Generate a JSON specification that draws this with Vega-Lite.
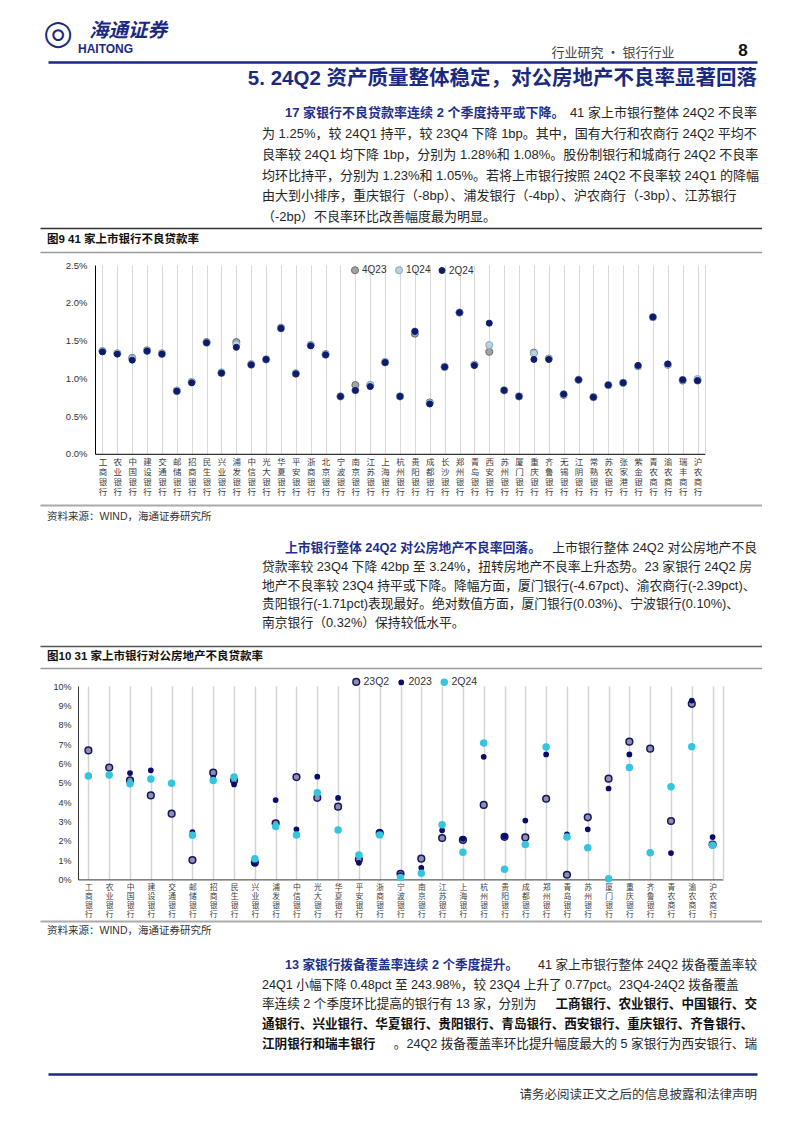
{
"$schema": "https://vega.github.io/schema/vega-lite/v6.json",
"padding": 0,
"background": "#ffffff",
"spacing": 0,
"resolve": {"scale": {"fill": "independent", "stroke": "independent", "size": "independent"}},
"config": {
  "view": {"stroke": null},
  "text": {"font": "Liberation Sans, Noto Sans CJK SC", "baseline": "middle"},
  "axis": {"labelFont": "Liberation Sans"}
},
"vconcat": [
 {"hconcat": [
   {"width": 43, "height": 1, "data": {"values": []}, "mark": "text"},
   {"width": 30, "height": 62, "data": {"values": [{"t": "◎"}]}, "mark": {"type": "text", "font": "DejaVu Sans", "fontSize": 34, "color": "#1b2a80", "dy": 3}, "encoding": {"text": {"field": "t"}}},
   {"width": 110, "height": 61.9, "data": {"values": [{"t": "海通证券", "k": "cn"}, {"t": "HAITONG", "k": "en"}]},
    "layer": [
      {"transform": [{"filter": "datum.k == 'cn'"}], "mark": {"type": "text", "font": "Noto Sans CJK SC", "fontWeight": "bold", "fontStyle": "italic", "fontSize": 19.5, "color": "#1b2a80", "dy": 0}, "encoding": {"text": {"field": "t"}}},
      {"transform": [{"filter": "datum.k == 'en'"}], "mark": {"type": "text", "font": "Liberation Sans", "fontWeight": "bold", "fontSize": 12, "color": "#1b2a80", "align": "left", "dx": -50, "dy": 18}, "encoding": {"text": {"field": "t"}}}
    ]},
   {"width": 369.5, "height": 2, "data": {"values": []}, "mark": "text"},
   {"width": 120, "height": 61.8, "data": {"values": [{"t": "行业研究 · 银行行业"}]}, "mark": {"type": "text", "font": "Noto Sans CJK SC", "fontSize": 13, "color": "#444444", "dy": 22}, "encoding": {"text": {"field": "t"}}},
   {"width": 59.5, "height": 3, "data": {"values": []}, "mark": "text"},
   {"width": 20, "height": 61.7, "data": {"values": [{"t": "8"}]}, "mark": {"type": "text", "font": "Liberation Sans", "fontWeight": "bold", "fontSize": 17, "color": "#111111", "dy": 20}, "encoding": {"text": {"field": "t"}}}
 ], "spacing": 0, "bounds": "flush"},

 {"hconcat": [
   {"width": 48, "height": 1, "data": {"values": []}, "mark": "text"},
   {"width": 709, "height": 40.5, "data": {"values": [{"t": "5. 24Q2 资产质量整体稳定，对公房地产不良率显著回落"}]},
    "mark": {"type": "text", "align": "right", "dy": -3, "fontSize": 20.5, "fontWeight": "bold", "color": "#1b2a80"},
    "encoding": {"text": {"field": "t"}, "x": {"datum": 1, "type": "quantitative", "scale": {"domain": [0, 1]}, "axis": {"orient": "top", "title": null, "labels": false, "ticks": false, "grid": false, "domain": true, "domainColor": "#1b2a80", "domainWidth": 2.5}}}}
 ], "spacing": 0, "bounds": "flush"},

 {"hconcat": [
   {"width": 262, "height": 1, "data": {"values": []}, "mark": "text"},
   {"width": 495, "height": 124.5,
    "data": {"values": [
      {"line": 1, "part": "lead", "t": "17 家银行不良贷款率连续 2 个季度持平或下降。"},
      {"line": 1, "part": "tail", "t": "41 家上市银行整体 24Q2 不良率"},
      {"line": 2, "part": "body", "t": "为 1.25%，较 24Q1 持平，较 23Q4 下降 1bp。其中，国有大行和农商行 24Q2 平均不"},
      {"line": 3, "part": "body", "t": "良率较 24Q1 均下降 1bp，分别为 1.28%和 1.08%。股份制银行和城商行 24Q2 不良率"},
      {"line": 4, "part": "body", "t": "均环比持平，分别为 1.23%和 1.05%。若将上市银行按照 24Q2 不良率较 24Q1 的降幅"},
      {"line": 5, "part": "body", "t": "由大到小排序，重庆银行（-8bp）、浦发银行（-4bp）、沪农商行（-3bp）、江苏银行"},
      {"line": 6, "part": "body", "t": "（-2bp）不良率环比改善幅度最为明显。"}
    ]},
    "encoding": {"y": {"field": "line", "type": "ordinal", "axis": null, "scale": {"type": "point", "padding": 0.5}}, "text": {"field": "t"}},
    "layer": [
      {"transform": [{"filter": "datum.part == 'lead'"}], "mark": {"type": "text", "align": "left", "dx": 23, "fontSize": 13, "fontWeight": "bold", "color": "#1f2f8f"}, "encoding": {"x": {"datum": 0, "type": "quantitative", "scale": {"domain": [0, 1]}, "axis": null}}},
      {"transform": [{"filter": "datum.part == 'body'"}], "mark": {"type": "text", "align": "left", "fontSize": 13, "color": "#262626"}, "encoding": {"x": {"datum": 0, "type": "quantitative", "scale": {"domain": [0, 1]}, "axis": null}}},
      {"transform": [{"filter": "datum.part == 'tail'"}], "mark": {"type": "text", "align": "right", "fontSize": 13, "color": "#262626"}, "encoding": {"x": {"datum": 1, "type": "quantitative", "scale": {"domain": [0, 1]}, "axis": null}}}
    ]}
 ], "spacing": 0, "bounds": "flush"},

 {"hconcat": [
   {"width": 40, "height": 1, "data": {"values": []}, "mark": "text"},
   {"width": 722, "height": 24, "data": {"values": [{"t": "图9  41 家上市银行不良贷款率"}]},
    "layer": [
      {"mark": {"type": "text", "align": "left", "dx": 7, "fontSize": 11.5, "fontWeight": "bold", "color": "#111111"}, "encoding": {"text": {"field": "t"}, "y": {"datum": 0.5, "type": "quantitative", "scale": {"domain": [0, 1]}, "axis": null}, "x": {"datum": 0, "type": "quantitative", "scale": {"domain": [0, 1]}, "axis": {"orient": "top", "title": null, "labels": false, "ticks": false, "grid": false, "domainColor": "#333333", "domainWidth": 1.5}}}},
      {"mark": {"type": "point", "size": 0, "opacity": 0}, "encoding": {"y": {"datum": 0.5, "type": "quantitative", "axis": null}, "x": {"datum": 0, "type": "quantitative", "axis": {"orient": "bottom", "title": null, "labels": false, "ticks": false, "grid": false, "domainColor": "#9a9a9a", "domainWidth": 1.5}}}}
    ],
    "resolve": {"axis": {"x": "independent"}}}
 ], "spacing": 0, "bounds": "flush"},

 {"width": 1, "height": 7.5, "data": {"values": []}, "mark": "text"},

 {"hconcat": [
   {"width": 94.5, "height": 1, "data": {"values": []}, "mark": "text"},
   {"width": 610, "height": 188.8,
    "data": {"values": [
{"b":"工商银行","s":"4Q23","v":1.36},{"b":"农业银行","s":"4Q23","v":1.33},{"b":"中国银行","s":"4Q23","v":1.27},{"b":"建设银行","s":"4Q23","v":1.37},{"b":"交通银行","s":"4Q23","v":1.33},{"b":"邮储银行","s":"4Q23","v":0.83},{"b":"招商银行","s":"4Q23","v":0.95},{"b":"民生银行","s":"4Q23","v":1.48},{"b":"兴业银行","s":"4Q23","v":1.07},{"b":"浦发银行","s":"4Q23","v":1.48},{"b":"中信银行","s":"4Q23","v":1.18},{"b":"光大银行","s":"4Q23","v":1.25},{"b":"华夏银行","s":"4Q23","v":1.67},{"b":"平安银行","s":"4Q23","v":1.06},{"b":"浙商银行","s":"4Q23","v":1.44},{"b":"北京银行","s":"4Q23","v":1.32},{"b":"宁波银行","s":"4Q23","v":0.76},{"b":"南京银行","s":"4Q23","v":0.91},{"b":"江苏银行","s":"4Q23","v":0.91},{"b":"上海银行","s":"4Q23","v":1.21},{"b":"杭州银行","s":"4Q23","v":0.76},{"b":"贵阳银行","s":"4Q23","v":1.59},{"b":"成都银行","s":"4Q23","v":0.68},{"b":"长沙银行","s":"4Q23","v":1.15},{"b":"郑州银行","s":"4Q23","v":1.87},{"b":"青岛银行","s":"4Q23","v":1.18},{"b":"西安银行","s":"4Q23","v":1.35},{"b":"苏州银行","s":"4Q23","v":0.84},{"b":"厦门银行","s":"4Q23","v":0.76},{"b":"重庆银行","s":"4Q23","v":1.34},{"b":"齐鲁银行","s":"4Q23","v":1.26},{"b":"无锡银行","s":"4Q23","v":0.78},{"b":"江阴银行","s":"4Q23","v":0.98},{"b":"常熟银行","s":"4Q23","v":0.75},{"b":"苏农银行","s":"4Q23","v":0.91},{"b":"张家港行","s":"4Q23","v":0.94},{"b":"紫金银行","s":"4Q23","v":1.16},{"b":"青农商行","s":"4Q23","v":1.81},{"b":"渝农商行","s":"4Q23","v":1.18},{"b":"瑞丰商行","s":"4Q23","v":0.97},{"b":"沪农商行","s":"4Q23","v":0.97},
{"b":"工商银行","s":"1Q24","v":1.36},{"b":"农业银行","s":"1Q24","v":1.33},{"b":"中国银行","s":"1Q24","v":1.26},{"b":"建设银行","s":"1Q24","v":1.36},{"b":"交通银行","s":"1Q24","v":1.32},{"b":"邮储银行","s":"1Q24","v":0.84},{"b":"招商银行","s":"1Q24","v":0.95},{"b":"民生银行","s":"1Q24","v":1.47},{"b":"兴业银行","s":"1Q24","v":1.08},{"b":"浦发银行","s":"1Q24","v":1.45},{"b":"中信银行","s":"1Q24","v":1.19},{"b":"光大银行","s":"1Q24","v":1.25},{"b":"华夏银行","s":"1Q24","v":1.66},{"b":"平安银行","s":"1Q24","v":1.07},{"b":"浙商银行","s":"1Q24","v":1.44},{"b":"北京银行","s":"1Q24","v":1.31},{"b":"宁波银行","s":"1Q24","v":0.76},{"b":"南京银行","s":"1Q24","v":0.84},{"b":"江苏银行","s":"1Q24","v":0.91},{"b":"上海银行","s":"1Q24","v":1.22},{"b":"杭州银行","s":"1Q24","v":0.76},{"b":"贵阳银行","s":"1Q24","v":1.62},{"b":"成都银行","s":"1Q24","v":0.67},{"b":"长沙银行","s":"1Q24","v":1.15},{"b":"郑州银行","s":"1Q24","v":1.87},{"b":"青岛银行","s":"1Q24","v":1.18},{"b":"西安银行","s":"1Q24","v":1.44},{"b":"苏州银行","s":"1Q24","v":0.84},{"b":"厦门银行","s":"1Q24","v":0.76},{"b":"重庆银行","s":"1Q24","v":1.33},{"b":"齐鲁银行","s":"1Q24","v":1.26},{"b":"无锡银行","s":"1Q24","v":0.79},{"b":"江阴银行","s":"1Q24","v":0.98},{"b":"常熟银行","s":"1Q24","v":0.75},{"b":"苏农银行","s":"1Q24","v":0.91},{"b":"张家港行","s":"1Q24","v":0.94},{"b":"紫金银行","s":"1Q24","v":1.16},{"b":"青农商行","s":"1Q24","v":1.81},{"b":"渝农商行","s":"1Q24","v":1.18},{"b":"瑞丰商行","s":"1Q24","v":0.98},{"b":"沪农商行","s":"1Q24","v":0.99},
{"b":"工商银行","s":"2Q24","v":1.35},{"b":"农业银行","s":"2Q24","v":1.32},{"b":"中国银行","s":"2Q24","v":1.24},{"b":"建设银行","s":"2Q24","v":1.36},{"b":"交通银行","s":"2Q24","v":1.32},{"b":"邮储银行","s":"2Q24","v":0.83},{"b":"招商银行","s":"2Q24","v":0.94},{"b":"民生银行","s":"2Q24","v":1.47},{"b":"兴业银行","s":"2Q24","v":1.07},{"b":"浦发银行","s":"2Q24","v":1.41},{"b":"中信银行","s":"2Q24","v":1.18},{"b":"光大银行","s":"2Q24","v":1.25},{"b":"华夏银行","s":"2Q24","v":1.66},{"b":"平安银行","s":"2Q24","v":1.06},{"b":"浙商银行","s":"2Q24","v":1.43},{"b":"北京银行","s":"2Q24","v":1.31},{"b":"宁波银行","s":"2Q24","v":0.76},{"b":"南京银行","s":"2Q24","v":0.84},{"b":"江苏银行","s":"2Q24","v":0.89},{"b":"上海银行","s":"2Q24","v":1.21},{"b":"杭州银行","s":"2Q24","v":0.76},{"b":"贵阳银行","s":"2Q24","v":1.62},{"b":"成都银行","s":"2Q24","v":0.66},{"b":"长沙银行","s":"2Q24","v":1.15},{"b":"郑州银行","s":"2Q24","v":1.87},{"b":"青岛银行","s":"2Q24","v":1.17},{"b":"西安银行","s":"2Q24","v":1.73},{"b":"苏州银行","s":"2Q24","v":0.84},{"b":"厦门银行","s":"2Q24","v":0.76},{"b":"重庆银行","s":"2Q24","v":1.25},{"b":"齐鲁银行","s":"2Q24","v":1.25},{"b":"无锡银行","s":"2Q24","v":0.79},{"b":"江阴银行","s":"2Q24","v":0.98},{"b":"常熟银行","s":"2Q24","v":0.75},{"b":"苏农银行","s":"2Q24","v":0.91},{"b":"张家港行","s":"2Q24","v":0.94},{"b":"紫金银行","s":"2Q24","v":1.17},{"b":"青农商行","s":"2Q24","v":1.81},{"b":"渝农商行","s":"2Q24","v":1.19},{"b":"瑞丰商行","s":"2Q24","v":0.98},{"b":"沪农商行","s":"2Q24","v":0.97}
    ]},
    "layer": [
      {"mark": {"type": "point", "opacity": 0},
       "encoding": {
         "x": {"field": "b", "type": "nominal", "sort": null, "scale": {"paddingInner": 0, "paddingOuter": 0}, "axis": {"orient": "top", "title": null, "labels": false, "ticks": false, "domain": false, "grid": true, "gridColor": "#d9d9d9", "gridWidth": 1, "bandPosition": 0}},
         "y": {"field": "v", "type": "quantitative", "axis": {"orient": "right", "title": null, "labels": false, "ticks": false, "grid": false, "domain": true, "domainColor": "#d9d9d9", "domainWidth": 1}}}},
      {"mark": {"type": "point", "filled": true, "opacity": 1, "strokeWidth": 1},
       "encoding": {
         "x": {"field": "b", "type": "nominal", "sort": null, "axis": {"orient": "bottom", "title": null, "labelAngle": 0, "labelExpr": "split(datum.label, '')", "labelFont": "Noto Sans CJK SC", "labelFontSize": 8.5, "labelLineHeight": 10, "labelColor": "#404040", "labelPadding": 4, "labelOverlap": false, "ticks": false, "grid": false, "domain": true, "domainColor": "#000000", "domainWidth": 1}},
         "y": {"field": "v", "type": "quantitative", "scale": {"domain": [0, 2.5], "nice": false}, "axis": {"orient": "left", "title": null, "values": [0, 0.5, 1, 1.5, 2, 2.5], "labelExpr": "format(datum.value, '.1f') + '%'", "ticks": false, "grid": false, "domain": true, "domainColor": "#000000", "domainWidth": 1, "labelFontSize": 9.5, "labelColor": "#333333", "labelPadding": 8}},
         "fill": {"field": "s", "type": "nominal", "scale": {"domain": ["4Q23", "1Q24", "2Q24"], "range": ["#a3a3a3", "#b7d2e2", "#0d1b6e"]}, "legend": {"orient": "none", "legendX": 255, "legendY": 0, "direction": "horizontal", "title": null, "labelFontSize": 10, "labelFont": "Liberation Sans", "labelColor": "#333333", "labelOffset": 2, "columnPadding": 6, "padding": 0, "symbolStrokeWidth": 1}},
         "stroke": {"field": "s", "type": "nominal", "scale": {"domain": ["4Q23", "1Q24", "2Q24"], "range": ["#6e6e6e", "#8fa7b8", "#0d1b6e"]}},
         "size": {"field": "s", "type": "nominal", "scale": {"type": "ordinal", "domain": ["4Q23", "1Q24", "2Q24"], "range": [50, 50, 36]}}
       }}
    ],
    "resolve": {"axis": {"x": "independent", "y": "independent"}}}
 ], "spacing": 0, "bounds": "flush", "resolve": {"scale": {"fill": "independent", "stroke": "independent", "size": "independent"}}},

 {"width": 1, "height": 8, "data": {"values": []}, "mark": "text"},

 {"hconcat": [
   {"width": 40, "height": 1, "data": {"values": []}, "mark": "text"},
   {"width": 722, "height": 33.2, "data": {"values": [{"t": "资料来源：WIND，海通证券研究所"}]},
    "mark": {"type": "text", "align": "left", "dx": 7, "dy": -5, "fontSize": 10.5, "color": "#333333"},
    "encoding": {"text": {"field": "t"}, "x": {"datum": 0, "type": "quantitative", "scale": {"domain": [0, 1]}, "axis": {"orient": "top", "title": null, "labels": false, "ticks": false, "grid": false, "domainColor": "#aaaaaa", "domainWidth": 2}}}}
 ], "spacing": 0, "bounds": "flush"},

 {"hconcat": [
   {"width": 262, "height": 1, "data": {"values": []}, "mark": "text"},
   {"width": 495, "height": 93,
    "data": {"values": [
      {"line": 1, "part": "lead", "t": "上市银行整体 24Q2 对公房地产不良率回落。"},
      {"line": 1, "part": "tail", "t": "上市银行整体 24Q2 对公房地产不良"},
      {"line": 2, "part": "body", "t": "贷款率较 23Q4 下降 42bp 至 3.24%，扭转房地产不良率上升态势。23 家银行 24Q2 房"},
      {"line": 3, "part": "body", "t": "地产不良率较 23Q4 持平或下降。降幅方面，厦门银行(-4.67pct)、渝农商行(-2.39pct)、"},
      {"line": 4, "part": "body", "t": "贵阳银行(-1.71pct)表现最好。绝对数值方面，厦门银行(0.03%)、宁波银行(0.10%)、"},
      {"line": 5, "part": "body", "t": "南京银行（0.32%）保持较低水平。"}
    ]},
    "encoding": {"y": {"field": "line", "type": "ordinal", "axis": null, "scale": {"type": "point", "padding": 0.5}}, "text": {"field": "t"}},
    "layer": [
      {"transform": [{"filter": "datum.part == 'lead'"}], "mark": {"type": "text", "align": "left", "dx": 23, "fontSize": 12.8, "fontWeight": "bold", "color": "#1f2f8f"}, "encoding": {"x": {"datum": 0, "type": "quantitative", "scale": {"domain": [0, 1]}, "axis": null}}},
      {"transform": [{"filter": "datum.part == 'body'"}], "mark": {"type": "text", "align": "left", "fontSize": 12.8, "color": "#262626"}, "encoding": {"x": {"datum": 0, "type": "quantitative", "scale": {"domain": [0, 1]}, "axis": null}}},
      {"transform": [{"filter": "datum.part == 'tail'"}], "mark": {"type": "text", "align": "right", "fontSize": 12.8, "color": "#262626"}, "encoding": {"x": {"datum": 1, "type": "quantitative", "scale": {"domain": [0, 1]}, "axis": null}}}
    ]}
 ], "spacing": 0, "bounds": "flush"},

 {"width": 1, "height": 13.3, "data": {"values": []}, "mark": "text"},

 {"hconcat": [
   {"width": 40, "height": 1, "data": {"values": []}, "mark": "text"},
   {"width": 722, "height": 22, "data": {"values": [{"t": "图10 31 家上市银行对公房地产不良贷款率"}]},
    "layer": [
      {"mark": {"type": "text", "align": "left", "dx": 7, "fontSize": 11.5, "fontWeight": "bold", "color": "#111111"}, "encoding": {"text": {"field": "t"}, "y": {"datum": 0.5, "type": "quantitative", "scale": {"domain": [0, 1]}, "axis": null}, "x": {"datum": 0, "type": "quantitative", "scale": {"domain": [0, 1]}, "axis": {"orient": "top", "title": null, "labels": false, "ticks": false, "grid": false, "domainColor": "#555555", "domainWidth": 1.5}}}},
      {"mark": {"type": "point", "size": 0, "opacity": 0}, "encoding": {"y": {"datum": 0.5, "type": "quantitative", "axis": null}, "x": {"datum": 0, "type": "quantitative", "axis": {"orient": "bottom", "title": null, "labels": false, "ticks": false, "grid": false, "domainColor": "#9a9a9a", "domainWidth": 1.5}}}}
    ],
    "resolve": {"axis": {"x": "independent"}}}
 ], "spacing": 0, "bounds": "flush"},

 {"width": 1, "height": 8, "data": {"values": []}, "mark": "text"},

 {"hconcat": [
   {"width": 77.9, "height": 1, "data": {"values": []}, "mark": "text"},
   {"width": 645, "height": 193.4,
    "data": {"values": [
{"b":"工商银行","s":"23Q2","v":6.67},{"b":"农业银行","s":"23Q2","v":5.78},{"b":"中国银行","s":"23Q2","v":5.12},{"b":"建设银行","s":"23Q2","v":4.34},{"b":"交通银行","s":"23Q2","v":3.40},{"b":"邮储银行","s":"23Q2","v":1.00},{"b":"招商银行","s":"23Q2","v":5.52},{"b":"民生银行","s":"23Q2","v":5.12},{"b":"兴业银行","s":"23Q2","v":0.88},{"b":"浦发银行","s":"23Q2","v":2.90},{"b":"中信银行","s":"23Q2","v":5.29},{"b":"光大银行","s":"23Q2","v":4.22},{"b":"华夏银行","s":"23Q2","v":3.76},{"b":"平安银行","s":"23Q2","v":1.03},{"b":"浙商银行","s":"23Q2","v":2.40},{"b":"宁波银行","s":"23Q2","v":0.29},{"b":"南京银行","s":"23Q2","v":1.07},{"b":"江苏银行","s":"23Q2","v":2.14},{"b":"上海银行","s":"23Q2","v":2.04},{"b":"杭州银行","s":"23Q2","v":3.85},{"b":"贵阳银行","s":"23Q2","v":2.20},{"b":"成都银行","s":"23Q2","v":2.17},{"b":"郑州银行","s":"23Q2","v":4.17},{"b":"青岛银行","s":"23Q2","v":0.24},{"b":"苏州银行","s":"23Q2","v":3.21},{"b":"厦门银行","s":"23Q2","v":5.21},{"b":"重庆银行","s":"23Q2","v":7.12},{"b":"齐鲁银行","s":"23Q2","v":6.76},{"b":"青农商行","s":"23Q2","v":3.02},{"b":"渝农商行","s":"23Q2","v":9.08},{"b":"沪农商行","s":"23Q2","v":1.80},
{"b":"工商银行","s":"2023","v":5.37},{"b":"农业银行","s":"2023","v":5.42},{"b":"中国银行","s":"2023","v":5.50},{"b":"建设银行","s":"2023","v":5.64},{"b":"交通银行","s":"2023","v":4.97},{"b":"邮储银行","s":"2023","v":2.45},{"b":"招商银行","s":"2023","v":5.26},{"b":"民生银行","s":"2023","v":4.91},{"b":"兴业银行","s":"2023","v":0.81},{"b":"浦发银行","s":"2023","v":4.10},{"b":"中信银行","s":"2023","v":2.59},{"b":"光大银行","s":"2023","v":5.31},{"b":"华夏银行","s":"2023","v":4.21},{"b":"平安银行","s":"2023","v":0.86},{"b":"浙商银行","s":"2023","v":2.47},{"b":"宁波银行","s":"2023","v":0.22},{"b":"南京银行","s":"2023","v":0.60},{"b":"江苏银行","s":"2023","v":2.54},{"b":"上海银行","s":"2023","v":2.10},{"b":"杭州银行","s":"2023","v":6.34},{"b":"贵阳银行","s":"2023","v":2.23},{"b":"成都银行","s":"2023","v":3.04},{"b":"郑州银行","s":"2023","v":6.46},{"b":"青岛银行","s":"2023","v":2.33},{"b":"苏州银行","s":"2023","v":2.59},{"b":"厦门银行","s":"2023","v":4.70},{"b":"重庆银行","s":"2023","v":6.46},{"b":"齐鲁银行","s":"2023","v":1.40},{"b":"青农商行","s":"2023","v":1.36},{"b":"渝农商行","s":"2023","v":9.25},{"b":"沪农商行","s":"2023","v":2.19},
{"b":"工商银行","s":"2Q24","v":5.35},{"b":"农业银行","s":"2Q24","v":5.40},{"b":"中国银行","s":"2Q24","v":4.95},{"b":"建设银行","s":"2Q24","v":5.19},{"b":"交通银行","s":"2Q24","v":4.97},{"b":"邮储银行","s":"2Q24","v":2.28},{"b":"招商银行","s":"2Q24","v":5.12},{"b":"民生银行","s":"2Q24","v":5.29},{"b":"兴业银行","s":"2Q24","v":1.07},{"b":"浦发银行","s":"2Q24","v":2.74},{"b":"中信银行","s":"2Q24","v":2.30},{"b":"光大银行","s":"2Q24","v":4.48},{"b":"华夏银行","s":"2Q24","v":2.55},{"b":"平安银行","s":"2Q24","v":1.26},{"b":"浙商银行","s":"2Q24","v":2.30},{"b":"宁波银行","s":"2Q24","v":0.10},{"b":"南京银行","s":"2Q24","v":0.32},{"b":"江苏银行","s":"2Q24","v":2.83},{"b":"上海银行","s":"2Q24","v":1.40},{"b":"杭州银行","s":"2Q24","v":7.05},{"b":"贵阳银行","s":"2Q24","v":0.52},{"b":"成都银行","s":"2Q24","v":1.81},{"b":"郑州银行","s":"2Q24","v":6.85},{"b":"青岛银行","s":"2Q24","v":2.19},{"b":"苏州银行","s":"2Q24","v":1.64},{"b":"厦门银行","s":"2Q24","v":0.03},{"b":"重庆银行","s":"2Q24","v":5.78},{"b":"齐鲁银行","s":"2Q24","v":1.38},{"b":"青农商行","s":"2Q24","v":4.79},{"b":"渝农商行","s":"2Q24","v":6.86},{"b":"沪农商行","s":"2Q24","v":1.76}
    ]},
    "layer": [
      {"mark": {"type": "point", "opacity": 0},
       "encoding": {
         "x": {"field": "b", "type": "nominal", "sort": null, "scale": {"paddingInner": 0, "paddingOuter": 0}, "axis": {"orient": "top", "title": null, "labels": false, "ticks": false, "domain": false, "grid": true, "gridColor": "#d4d4d4", "gridWidth": 1.5, "bandPosition": 0}},
         "y": {"field": "v", "type": "quantitative", "axis": {"orient": "right", "title": null, "labels": false, "ticks": false, "grid": false, "domain": true, "domainColor": "#d4d4d4", "domainWidth": 1.5}}}},
      {"mark": {"type": "point", "filled": true, "opacity": 1, "strokeWidth": 1.5},
       "encoding": {
         "x": {"field": "b", "type": "nominal", "sort": null, "axis": {"orient": "bottom", "title": null, "labelAngle": 0, "labelExpr": "split(datum.label, '')", "labelFont": "Noto Sans CJK SC", "labelFontSize": 7.8, "labelLineHeight": 9.2, "labelColor": "#404040", "labelPadding": 4, "labelOverlap": false, "ticks": false, "grid": false, "domain": true, "domainColor": "#333333", "domainWidth": 1}},
         "y": {"field": "v", "type": "quantitative", "scale": {"domain": [0, 10], "nice": false}, "axis": {"orient": "left", "title": null, "values": [0, 1, 2, 3, 4, 5, 6, 7, 8, 9, 10], "labelExpr": "datum.value + '%'", "ticks": false, "grid": false, "domain": true, "domainColor": "#333333", "domainWidth": 1, "labelFontSize": 9, "labelColor": "#333333", "labelPadding": 7}},
         "fill": {"field": "s", "type": "nominal", "scale": {"domain": ["23Q2", "2023", "2Q24"], "range": ["#8e8fae", "#0b0b6e", "#35c5df"]}, "legend": {"orient": "none", "legendX": 273, "legendY": -9.5, "direction": "horizontal", "title": null, "labelFontSize": 10.5, "labelFont": "Liberation Sans", "labelColor": "#333333", "labelOffset": 2, "columnPadding": 6, "padding": 0, "symbolStrokeWidth": 1.5}},
         "stroke": {"field": "s", "type": "nominal", "scale": {"domain": ["23Q2", "2023", "2Q24"], "range": ["#161660", "#0b0b6e", "#35c5df"]}},
         "size": {"field": "s", "type": "nominal", "scale": {"type": "ordinal", "domain": ["23Q2", "2023", "2Q24"], "range": [45, 18, 36]}}
       }}
    ],
    "resolve": {"axis": {"x": "independent", "y": "independent"}}}
 ], "spacing": 0, "bounds": "flush", "resolve": {"scale": {"fill": "independent", "stroke": "independent", "size": "independent"}}},

 {"width": 1, "height": 2, "data": {"values": []}, "mark": "text"},

 {"hconcat": [
   {"width": 40, "height": 1, "data": {"values": []}, "mark": "text"},
   {"width": 722, "height": 33.1, "data": {"values": [{"t": "资料来源：WIND，海通证券研究所"}]},
    "mark": {"type": "text", "align": "left", "dx": 7, "dy": -6.5, "fontSize": 10.5, "color": "#333333"},
    "encoding": {"text": {"field": "t"}, "x": {"datum": 0, "type": "quantitative", "scale": {"domain": [0, 1]}, "axis": {"orient": "top", "title": null, "labels": false, "ticks": false, "grid": false, "domainColor": "#aaaaaa", "domainWidth": 2}}}}
 ], "spacing": 0, "bounds": "flush"},

 {"hconcat": [
   {"width": 262, "height": 1, "data": {"values": []}, "mark": "text"},
   {"width": 495, "height": 98.75,
    "data": {"values": [
      {"line": 1, "part": "lead", "t": "13 家银行拨备覆盖率连续 2 个季度提升。"},
      {"line": 1, "part": "tail", "t": "41 家上市银行整体 24Q2 拨备覆盖率较"},
      {"line": 2, "part": "body", "t": "24Q1 小幅下降 0.48pct 至 243.98%，较 23Q4 上升了 0.77pct。23Q4-24Q2 拨备覆盖"},
      {"line": 3, "part": "body", "t": "率连续 2 个季度环比提高的银行有 13 家，分别为"},
      {"line": 3, "part": "boldR", "t": "工商银行、农业银行、中国银行、交"},
      {"line": 4, "part": "boldL", "t": "通银行、兴业银行、华夏银行、贵阳银行、青岛银行、西安银行、重庆银行、齐鲁银行、"},
      {"line": 5, "part": "boldL", "t": "江阴银行和瑞丰银行"},
      {"line": 5, "part": "tail", "t": "。24Q2 拨备覆盖率环比提升幅度最大的 5 家银行为西安银行、瑞"}
    ]},
    "encoding": {"y": {"field": "line", "type": "ordinal", "axis": null, "scale": {"type": "point", "padding": 0.5}}, "text": {"field": "t"}},
    "layer": [
      {"transform": [{"filter": "datum.part == 'lead'"}], "mark": {"type": "text", "align": "left", "dx": 23, "fontSize": 12.6, "fontWeight": "bold", "color": "#1f2f8f"}, "encoding": {"x": {"datum": 0, "type": "quantitative", "scale": {"domain": [0, 1]}, "axis": null}}},
      {"transform": [{"filter": "datum.part == 'body'"}], "mark": {"type": "text", "align": "left", "fontSize": 12.6, "color": "#262626"}, "encoding": {"x": {"datum": 0, "type": "quantitative", "scale": {"domain": [0, 1]}, "axis": null}}},
      {"transform": [{"filter": "datum.part == 'tail'"}], "mark": {"type": "text", "align": "right", "fontSize": 12.6, "color": "#262626"}, "encoding": {"x": {"datum": 1, "type": "quantitative", "scale": {"domain": [0, 1]}, "axis": null}}},
      {"transform": [{"filter": "datum.part == 'boldL'"}], "mark": {"type": "text", "align": "left", "fontSize": 12.6, "fontWeight": "bold", "color": "#111111"}, "encoding": {"x": {"datum": 0, "type": "quantitative", "scale": {"domain": [0, 1]}, "axis": null}}},
      {"transform": [{"filter": "datum.part == 'boldR'"}], "mark": {"type": "text", "align": "right", "fontSize": 12.6, "fontWeight": "bold", "color": "#111111"}, "encoding": {"x": {"datum": 1, "type": "quantitative", "scale": {"domain": [0, 1]}, "axis": null}}}
    ]}
 ], "spacing": 0, "bounds": "flush"},

 {"width": 1, "height": 20, "data": {"values": []}, "mark": "text"},

 {"hconcat": [
   {"width": 48, "height": 1, "data": {"values": []}, "mark": "text"},
   {"width": 709, "height": 30, "data": {"values": [{"t": "请务必阅读正文之后的信息披露和法律声明"}]},
    "mark": {"type": "text", "align": "right", "dy": 6, "fontSize": 12.5, "color": "#333333"},
    "encoding": {"text": {"field": "t"}, "x": {"datum": 1, "type": "quantitative", "scale": {"domain": [0, 1]}, "axis": {"orient": "top", "title": null, "labels": false, "ticks": false, "grid": false, "domainColor": "#1b2a80", "domainWidth": 2.5}}}}
 ], "spacing": 0, "bounds": "flush"}
]
}
